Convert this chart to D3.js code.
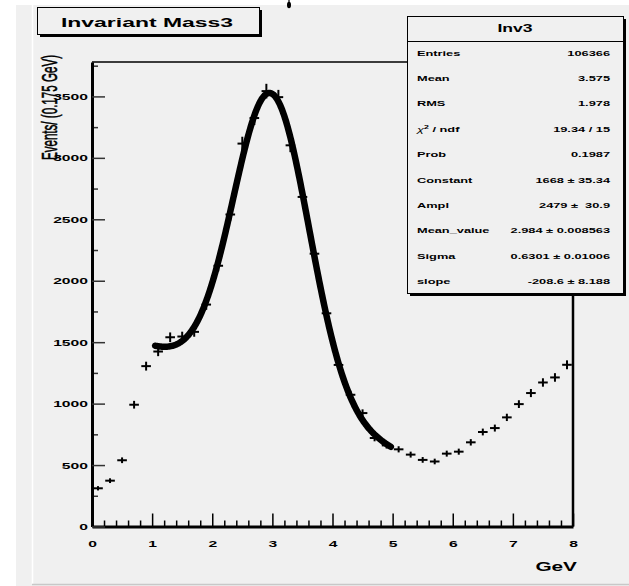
<!DOCTYPE html>
<html>
<head>
<meta charset="utf-8">
<script src="https://cdn.jsdelivr.net/npm/d3@7"></script>
<style>
  body { margin: 0; background: #fff; }
  svg { display: block; }
  text { font-family: "Liberation Sans", Arial, Helvetica, sans-serif; white-space: pre; }
</style>
</head>
<body>
<svg id="chart" width="629" height="586"></svg>
<script>
// histogram: 40 bins of 0.2 GeV between 0 and 8
var binCenters = [0.1, 0.3, 0.5, 0.7, 0.9, 1.1, 1.3, 1.5, 1.7, 1.9,
                  2.1, 2.3, 2.5, 2.7, 2.9, 3.1, 3.3, 3.5, 3.7, 3.9,
                  4.1, 4.3, 4.5, 4.7, 4.9, 5.1, 5.3, 5.5, 5.7, 5.9,
                  6.1, 6.3, 6.5, 6.7, 6.9, 7.1, 7.3, 7.5, 7.7, 7.9];
var counts = [311, 373, 539, 991, 1305, 1424, 1540, 1546, 1584, 1806,
              2122, 2539, 3116, 3324, 3543, 3494, 3102, 2682, 2220, 1735,
              1315, 1072, 923, 720, 660, 628, 585, 542, 529, 593,
              609, 685, 769, 801, 888, 996, 1086, 1172, 1213, 1316];
var binWidth = 0.2;

// fit: Constant, Ampl, Mean_value, Sigma, slope
var fitPars = [1668, 2479, 2.984, 0.6301, -208.6];
var fitRange = [1.05, 4.97];

var xTicks = [0, 1, 2, 3, 4, 5, 6, 7, 8];
var yTicks = [0, 500, 1000, 1500, 2000, 2500, 3000, 3500];

var statLabels = ["Entries", "Mean", "RMS", "chi2", "Prob", "Constant", "Ampl", "Mean_value", "Sigma", "slope"];
var statValues = ["106366", "3.575", "1.978", "19.34 / 15", "0.1987", "1668 \u00b1 35.34",
                  "2479 \u00b1  30.9", "2.984 \u00b1 0.008563", "0.6301 \u00b1 0.01006", "-208.6 \u00b1 8.188"];

var bg = "#f0f0f0";
var stretch = 1.6; // text in the picture is drawn wide

var svg = d3.select("#chart");

// canvas + pad
svg.append("rect").attr("x", 0).attr("y", 0).attr("width", 629).attr("height", 586).attr("fill", "#fff");
svg.append("rect").attr("x", 16).attr("y", 5).attr("width", 613).attr("height", 581).attr("fill", bg);
svg.append("line").attr("x1", 32.5).attr("x2", 32.5).attr("y1", 5).attr("y2", 584)
  .attr("stroke", "#fff").attr("stroke-width", 1.5);
svg.append("line").attr("x1", 32).attr("x2", 629).attr("y1", 584.5).attr("y2", 584.5)
  .attr("stroke", "#c8c8c8").attr("stroke-width", 1.5);

var xScale = d3.scaleLinear().domain([0, 8]).range([92, 573]);
var yScale = d3.scaleLinear().domain([0, 3780]).range([526.5, 62]);

// frame top / right
svg.append("line").attr("x1", 92).attr("x2", 573).attr("y1", 62).attr("y2", 62)
  .attr("stroke", "#000").attr("stroke-width", 1.5);
svg.append("line").attr("x1", 573).attr("x2", 573).attr("y1", 62).attr("y2", 526.5)
  .attr("stroke", "#000").attr("stroke-width", 2.5);

// minor ticks
var xMinor = d3.range(0, 8.001, 0.2).filter(function (d) { return Math.abs(d - Math.round(d)) > 0.01; });
svg.append("g")
  .attr("transform", "translate(0," + yScale(0) + ")")
  .call(d3.axisBottom(xScale).tickValues(xMinor).tickSize(-6).tickFormat(""))
  .call(function (g) { g.select(".domain").remove(); })
  .selectAll("line").attr("stroke", "#000").attr("stroke-width", 1.5);

var yMinor = d3.range(250, 3780, 500);
svg.append("g")
  .attr("transform", "translate(" + xScale(0) + ",0)")
  .call(d3.axisLeft(yScale).tickValues(yMinor).tickSize(-6).tickFormat(""))
  .call(function (g) { g.select(".domain").remove(); })
  .selectAll("line").attr("stroke", "#333").attr("stroke-width", 1.5);

// X axis
var gx = svg.append("g")
  .attr("transform", "translate(0," + yScale(0) + ")")
  .call(d3.axisBottom(xScale).tickValues(xTicks).tickSize(-13).tickSizeOuter(0).tickPadding(14).tickFormat(d3.format("d")));
gx.select(".domain").attr("stroke", "#000").attr("stroke-width", 3);
gx.selectAll(".tick line").attr("stroke", "#000").attr("stroke-width", 1.5);
gx.selectAll(".tick text")
  .attr("transform", "scale(" + stretch + ",1)")
  .style("font-size", "9.8px").style("font-weight", "bold").attr("fill", "#000");

// Y axis
var gy = svg.append("g")
  .attr("transform", "translate(" + xScale(0) + ",0)")
  .call(d3.axisLeft(yScale).tickValues(yTicks).tickSize(-13).tickSizeOuter(0).tickPadding(4 / stretch).tickFormat(d3.format("d")));
gy.select(".domain").attr("stroke", "#000").attr("stroke-width", 3);
gy.selectAll(".tick line").attr("stroke", "#333").attr("stroke-width", 1.5);
gy.selectAll(".tick text")
  .attr("transform", "scale(" + stretch + ",1)")
  .style("font-size", "9.8px").style("font-weight", "bold").attr("fill", "#000");

// axis titles
svg.append("text")
  .attr("transform", "translate(577,571) scale(" + stretch + ",1)")
  .attr("text-anchor", "end")
  .style("font-size", "13px").style("font-weight", "bold")
  .text("GeV");

svg.append("text")
  .attr("transform", "translate(57,55) scale(1.9,1) rotate(-90)")
  .attr("text-anchor", "end")
  .style("font-size", "11.6px")
  .attr("stroke", "#000").attr("stroke-width", 0.3)
  .text("Events/ (0.175 GeV)");

// data points with error bars
var pts = svg.append("g").attr("stroke", "#000").attr("stroke-width", 2);
var halfW = (xScale(binWidth) - xScale(0)) * 0.4;
pts.selectAll(".h").data(counts).enter().append("line")
  .attr("x1", function (d, i) { return xScale(binCenters[i]) - halfW; })
  .attr("x2", function (d, i) { return xScale(binCenters[i]) + halfW; })
  .attr("y1", function (d) { return yScale(d); })
  .attr("y2", function (d) { return yScale(d); });
pts.selectAll(".v").data(counts).enter().append("line")
  .attr("x1", function (d, i) { return xScale(binCenters[i]); })
  .attr("x2", function (d, i) { return xScale(binCenters[i]); })
  .attr("y1", function (d) { return yScale(d + Math.sqrt(d)); })
  .attr("y2", function (d) { return yScale(d - Math.sqrt(d)); });

// fit curve
function fitFn(x) {
  var z = (x - fitPars[2]) / fitPars[3];
  return fitPars[0] + fitPars[4] * x + fitPars[1] * Math.exp(-0.5 * z * z);
}
var fx = d3.range(fitRange[0], fitRange[1], 0.01).concat([fitRange[1]]);
svg.append("path")
  .datum(fx)
  .attr("fill", "none")
  .attr("stroke", "#000")
  .attr("stroke-width", 6.5)
  .attr("stroke-linecap", "round")
  .attr("d", d3.line().x(function (d) { return xScale(d); }).y(function (d) { return yScale(fitFn(d)); }));

// little mark above the pad
svg.append("ellipse").attr("cx", 289).attr("cy", 5).attr("rx", 2).attr("ry", 3.2).attr("fill", "#000");
svg.append("line").attr("x1", 289).attr("x2", 289).attr("y1", 0).attr("y2", 4)
  .attr("stroke", "#000").attr("stroke-width", 1.2);

// title box
svg.append("rect").attr("x", 40).attr("y", 10).attr("width", 222).attr("height", 27).attr("fill", "#000");
svg.append("rect").attr("x", 37.5).attr("y", 7.5).attr("width", 222).attr("height", 27)
  .attr("fill", bg).attr("stroke", "#000").attr("stroke-width", 1);
svg.append("text")
  .attr("transform", "translate(147,27) scale(1.7,1)")
  .attr("text-anchor", "middle")
  .style("font-size", "13.5px").style("font-weight", "bold")
  .text("Invariant Mass3");

// stats box
var sx = 407, sy = 16, sw = 216, sh = 277;
svg.append("rect").attr("x", sx + 3).attr("y", sy + 3).attr("width", sw).attr("height", sh).attr("fill", "#000");
svg.append("rect").attr("x", sx + 0.5).attr("y", sy + 0.5).attr("width", sw).attr("height", sh)
  .attr("fill", bg).attr("stroke", "#000").attr("stroke-width", 1);
svg.append("line").attr("x1", sx).attr("x2", sx + sw).attr("y1", 41.5).attr("y2", 41.5)
  .attr("stroke", "#000").attr("stroke-width", 1);
svg.append("text")
  .attr("transform", "translate(" + (sx + sw / 2) + ",32) scale(" + stretch + ",1)")
  .attr("text-anchor", "middle")
  .style("font-size", "11px").style("font-weight", "bold")
  .text("Inv3");

var rowY = d3.scaleLinear().domain([0, statLabels.length - 1]).range([55.7, 284]);
var rows = svg.append("g").style("font-size", "8px").style("font-weight", "bold");
statLabels.forEach(function (lab, i) {
  var t = rows.append("text")
    .attr("transform", "translate(417," + rowY(i) + ") scale(" + stretch + ",1)");
  if (lab === "chi2") {
    t.append("tspan").style("font-weight", "normal").style("font-style", "italic").text("\u03c7");
    t.append("tspan").attr("dy", -3).style("font-size", "5.5px").text("2");
    t.append("tspan").attr("dy", 3).text(" / ndf");
  } else {
    t.text(lab);
  }
  rows.append("text")
    .attr("transform", "translate(610," + rowY(i) + ") scale(" + stretch + ",1)")
    .attr("text-anchor", "end")
    .text(statValues[i]);
});
</script>
</body>
</html>
